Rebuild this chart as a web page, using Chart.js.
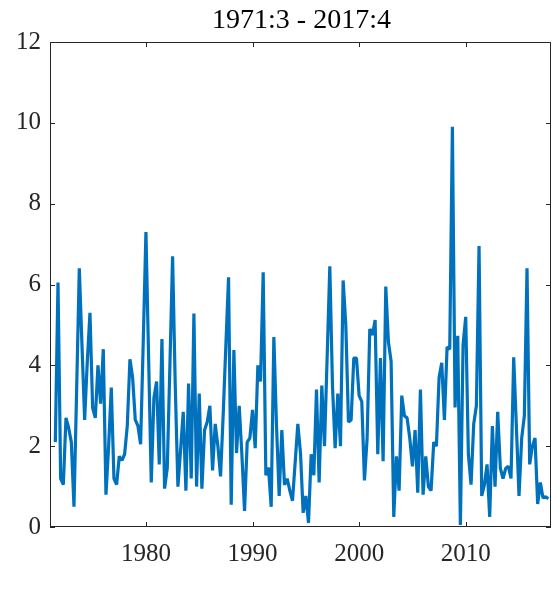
<!DOCTYPE html>
<html><head><meta charset="utf-8">
<script src="https://cdn.jsdelivr.net/npm/chart.js@4"></script>
<style>html,body{margin:0;padding:0;background:#fff;}#wrap{width:558px;height:598px;position:relative;}</style>
</head><body><div id="wrap"><canvas id="c"></canvas></div>
<script>
const chartTitle = "1971:3 - 2017:4";
const startYear = 1971;
const startQuarter = 3;
const values = [
 2.1, 6.05, 1.2, 1.05, 2.7, 2.45, 2.1, 0.5, 3.4, 6.4,
 4.5, 2.65, 4.1, 5.3, 2.95, 2.7, 4.0, 3.05, 4.4, 0.8,
 2.0, 3.45, 1.2, 1.05, 1.75, 1.65, 1.8, 2.5, 4.15, 3.7,
 2.65, 2.5, 2.05, 4.6, 7.3, 4.2, 1.1, 3.2, 3.6, 1.55,
 4.65, 0.95, 1.45, 4.0, 6.7, 3.5, 1.0, 1.9, 2.85, 0.9,
 3.55, 1.2, 5.28, 1.0, 3.3, 0.95, 2.4, 2.6, 3.0, 1.4,
 2.55, 2.0, 1.25, 2.8, 4.5, 6.18, 0.55, 4.38, 1.83, 3.0,
 1.8, 0.4, 2.1, 2.2, 2.9, 1.95, 4.0, 3.6, 6.3, 1.28,
 1.47, 0.5, 4.7, 2.5, 0.77, 2.4, 1.04, 1.2, 0.9, 0.65,
 1.6, 2.55, 1.83, 0.35, 0.77, 0.1, 1.8, 1.28, 3.4, 1.1,
 3.5, 2.0, 4.2, 6.45, 3.5, 1.95, 3.3, 2.0, 6.1, 5.0,
 2.6, 2.65, 4.18, 4.18, 3.25, 3.1, 1.15, 2.2, 4.9, 4.75,
 5.12, 1.8, 4.18, 1.63, 5.95, 4.57, 4.1, 0.25, 1.75, 0.9,
 3.25, 2.75, 2.7, 2.2, 1.5, 2.4, 0.85, 3.4, 0.8, 1.75,
 1.0, 0.9, 2.1, 2.0, 3.7, 4.06, 2.65, 4.45, 4.4, 9.9,
 2.96, 4.73, 0.05, 4.5, 5.2, 1.8, 1.05, 2.55, 3.0, 6.95,
 0.77, 1.04, 1.55, 0.25, 2.5, 1.0, 2.85, 1.45, 1.2, 1.45,
 1.5, 1.2, 4.2, 2.5, 0.77, 2.2, 2.75, 6.4, 1.55, 2.0,
 2.2, 0.57, 1.1, 0.72, 0.75, 0.7
];
const xTicks = [1980, 1990, 2000, 2010];
const yTicks = [0, 2, 4, 6, 8, 10, 12];
const xMin = 1971, xMax = 2018;
const yMin = 0, yMax = 12;

const dates = values.map((v, i) => startYear + (startQuarter - 1 + i) / 4);
const points = values.map((v, i) => ({x: dates[i], y: v}));

const FONT = '"Liberation Serif", "Times New Roman", serif';
const AXIS = '#262626';

const boxPlugin = {
  id: 'box',
  beforeDatasetsDraw(chart) {
    const {ctx, chartArea: a, scales: {x, y}} = chart;
    ctx.save();
    ctx.strokeStyle = AXIS;
    ctx.lineWidth = 1;
    ctx.strokeRect(Math.round(a.left) + 0.5, Math.round(a.top) + 0.5,
                   Math.round(a.right - a.left) - 1, Math.round(a.bottom - a.top) - 1);
    const tl = 5;
    ctx.beginPath();
    xTicks.forEach(v => {
      const px = Math.round(x.getPixelForValue(v)) + 0.5;
      ctx.moveTo(px, a.bottom); ctx.lineTo(px, a.bottom - tl);
      ctx.moveTo(px, a.top); ctx.lineTo(px, a.top + tl);
    });
    yTicks.forEach(v => {
      const py = Math.round(y.getPixelForValue(v)) + 0.5;
      ctx.moveTo(a.left, py); ctx.lineTo(a.left + tl, py);
      ctx.moveTo(a.right, py); ctx.lineTo(a.right - tl, py);
    });
    ctx.stroke();
    ctx.restore();
  },
  afterDraw(chart) {
    const {ctx, chartArea: a} = chart;
    ctx.save();
    ctx.fillStyle = '#000';
    ctx.font = '28px ' + FONT;
    ctx.textAlign = 'center';
    ctx.textBaseline = 'alphabetic';
    ctx.fillText(chartTitle, (a.left + a.right) / 2 + 1, 28);
    ctx.restore();
  }
};

new Chart(document.getElementById('c'), {
  type: 'line',
  data: {
    datasets: [{
      data: points,
      borderColor: '#0072BD',
      borderWidth: 3.2,
      pointRadius: 0,
      tension: 0,
      fill: false,
      borderJoinStyle: 'bevel'
    }]
  },
  options: {
    responsive: true,
    maintainAspectRatio: false,
    animation: false,
    layout: {padding: {top: 42, right: 7, left: 0, bottom: 0}},
    plugins: {legend: {display: false}, tooltip: {enabled: false}, title: {display: false}},
    scales: {
      x: {
        type: 'linear', min: xMin, max: xMax,
        afterBuildTicks: s => { s.ticks = xTicks.map(v => ({value: v})); },
        grid: {display: false, drawTicks: false},
        border: {display: false},
        ticks: {font: {family: FONT, size: 25}, color: AXIS, padding: 12, maxRotation: 0, autoSkip: false,
                callback: v => String(v)},
        afterFit: s => { s.height = 598 - 527; }
      },
      y: {
        min: yMin, max: yMax,
        afterBuildTicks: s => { s.ticks = yTicks.map(v => ({value: v})); },
        grid: {display: false, drawTicks: false},
        border: {display: false},
        ticks: {font: {family: FONT, size: 25}, color: AXIS, padding: 9},
        afterFit: s => { s.width = 50; }
      }
    }
  },
  plugins: [boxPlugin]
});
</script>
</body></html>
